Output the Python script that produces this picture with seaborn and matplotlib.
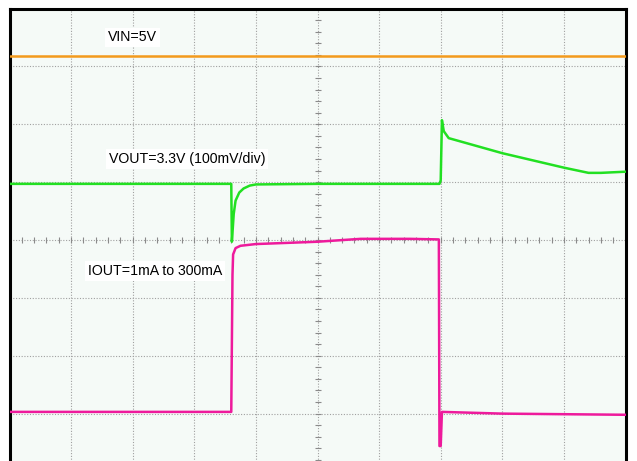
import numpy as np
import matplotlib
matplotlib.use('Agg')
import matplotlib.pyplot as plt
import seaborn as sns

# scope trace, all values in screen divisions (10 x 8 grid, centre = 0,0)
vin_t = [-5.0, 5.0]
vin_v = [3.18, 3.18]

vout_t = [-5.0, -1.40, -1.39, -1.36, -1.33, -1.27, -1.20, -1.10, -1.00, 0.00,
          1.98, 2.00, 2.02, 2.05, 2.13, 3.00, 4.00, 4.40, 4.60, 5.00]
vout_v = [0.97, 0.97, -0.03, 0.45, 0.68, 0.82, 0.89, 0.94, 0.96, 0.97,
          0.97, 1.03, 2.07, 1.88, 1.76, 1.50, 1.25, 1.16, 1.16, 1.18]

iout_t = [-5.0, -1.40, -1.38, -1.37, -1.33, -1.25, -1.00, 0.00, 0.70, 1.50,
          1.97, 1.98, 2.00, 2.02, 3.00, 5.00]
iout_v = [-2.97, -2.97, -0.60, -0.25, -0.14, -0.10, -0.07, -0.03, 0.02, 0.02,
          0.01, -3.56, -3.56, -2.97, -3.00, -3.02]

labels = ['VIN=5V', 'VOUT=3.3V (100mV/div)', 'IOUT=1mA to 300mA']
label_x = [-3.40, -3.39, -3.73]
label_y = [3.50, 1.40, -0.53]

sns.set_style('white')
plt.rcParams['font.family'] = ['Liberation Sans', 'DejaVu Sans']

fig = plt.figure(figsize=(6.37, 4.61), dpi=100)
ax = fig.add_axes([9.5 / 637, 1 - 471.5 / 461, 616 / 637, 463 / 461])
ax.set_facecolor('#f5faf7')
ax.set_xlim(-5, 5)
ax.set_ylim(-4, 4)

# graticule
for gx in range(-4, 5):
    ax.axvline(gx, color='#a0a0a0', lw=0.8, ls=(0, (1, 1.5)), zorder=1)
for gy in range(-3, 4):
    ax.axhline(gy, color='#a0a0a0', lw=0.8, ls=(0, (1, 1.5)), zorder=1)
minor = np.arange(-5, 5.01, 0.2)
ax.plot(minor, np.zeros_like(minor), ls='none', marker='|', ms=5,
        mew=0.8, color='#8a8a8a', zorder=1)
minor_y = np.arange(-4, 4.01, 0.2)
ax.plot(np.zeros_like(minor_y), minor_y, ls='none', marker='_', ms=5,
        mew=0.8, color='#8a8a8a', zorder=1)

sns.lineplot(x=vin_t, y=vin_v, ax=ax, color='#f39a1c', lw=1.8,
             sort=False, estimator=None, zorder=3)
sns.lineplot(x=vout_t, y=vout_v, ax=ax, color='#22e022', lw=1.8,
             sort=False, estimator=None, zorder=3)
sns.lineplot(x=iout_t, y=iout_v, ax=ax, color='#ee1a9c', lw=1.8,
             sort=False, estimator=None, zorder=3)

for txt, tx, ty in zip(labels, label_x, label_y):
    ax.text(tx, ty, txt, fontsize=10.2, va='center', ha='left', color='black',
            bbox=dict(facecolor='white', edgecolor='none', pad=2), zorder=4)

ax.set_xticks([])
ax.set_yticks([])
ax.set_xlabel('')
ax.set_ylabel('')
for side in ['left', 'top', 'right', 'bottom']:
    ax.spines[side].set_color('black')
    ax.spines[side].set_linewidth(2.2)

fig.savefig('out.png', dpi=100, facecolor='white')
